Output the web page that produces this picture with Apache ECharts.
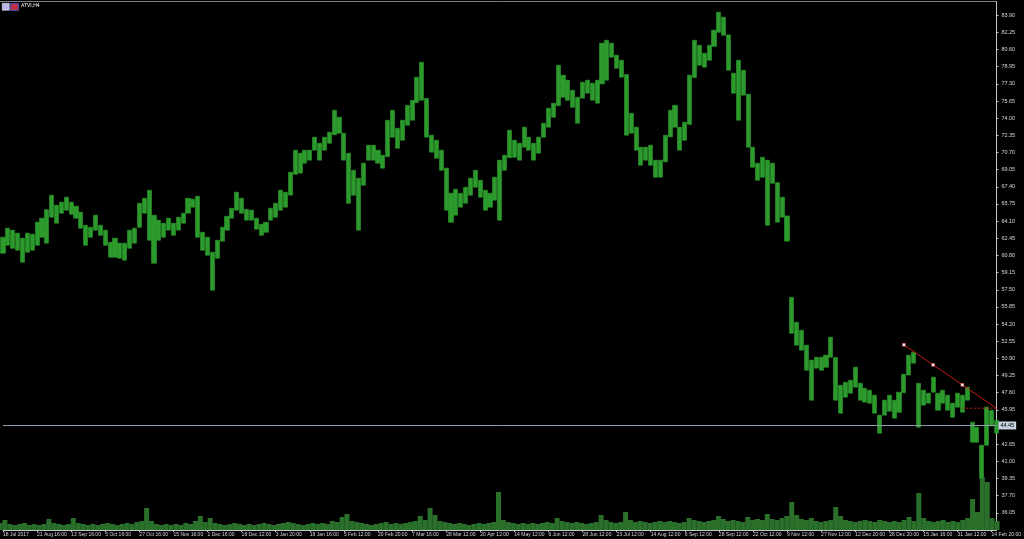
<!DOCTYPE html>
<html>
<head>
<meta charset="utf-8">
<script src="https://cdn.jsdelivr.net/npm/echarts@6/dist/echarts.min.js"></script>
<style>
html,body{margin:0;padding:0;background:#000;}
#chart{width:1024px;height:539px;}
</style>
</head>
<body>
<div id="chart"></div>
<script>
// ---- data ----
const symbolTitle = 'ATVI,H4';
const tickLabels = ['18 Jul 2017','21 Aug 16:00','13 Sep 16:00','5 Oct 16:00','27 Oct 16:00','15 Nov 16:00','1 Dec 16:00','18 Dec 12:00','3 Jan 20:00','19 Jan 16:00','5 Feb 12:00','20 Feb 20:00','7 Mar 16:00','28 Mar 12:00','20 Apr 12:00','14 May 12:00','6 Jun 12:00','28 Jun 12:00','23 Jul 12:00','14 Aug 12:00','6 Sep 12:00','28 Sep 12:00','22 Oct 12:00','9 Nov 12:00','27 Nov 12:00','12 Dec 20:00','28 Dec 20:00','15 Jan 16:00','31 Jan 12:00','14 Feb 20:00'];
const barsPerLabel = 7;

const highs = [
62.55,63.42,63.23,62.94,62.46,62.94,62.84,64.00,64.38,65.20,
66.59,65.63,65.92,66.40,65.92,65.53,64.96,63.70,63.51,64.67,
63.70,63.23,62.07,62.46,61.98,61.98,63.23,63.42,65.82,66.30,
67.07,64.67,64.19,63.90,64.38,63.90,64.47,64.86,66.30,66.21,
66.49,63.03,62.55,61.11,62.26,63.51,64.57,65.34,66.88,66.30,
65.24,65.15,64.38,63.80,63.99,65.34,65.82,67.07,66.88,68.80,
70.92,70.63,70.92,70.92,72.17,71.59,72.17,72.65,74.76,74.09,
72.55,70.63,68.99,68.23,69.67,71.40,71.40,70.92,70.44,73.80,
74.76,73.03,73.80,75.24,75.72,77.94,79.38,75.90,72.36,71.88,
70.92,69.20,66.78,67.17,66.78,67.36,68.23,68.99,68.03,67.07,
66.78,68.32,69.96,70.44,72.84,71.88,71.59,73.13,72.17,71.59,
72.17,73.51,74.96,75.44,79.09,78.13,77.65,76.69,76.01,77.46,
77.65,77.36,77.65,81.21,81.49,81.21,80.05,79.57,78.20,74.47,
73.13,71.21,71.21,71.40,69.96,69.96,72.36,74.76,75.24,73.13,
73.61,78.13,81.49,81.01,80.24,81.01,82.46,84.19,83.71,82.00,
78.32,79.57,78.61,76.30,71.21,69.67,70.24,69.96,69.67,67.80,
66.40,64.60,56.78,54.38,53.61,52.17,50.73,51.01,51.01,51.21,
52.94,51.00,48.32,48.61,48.80,50.05,48.51,48.03,47.84,47.36,
45.44,46.88,47.36,46.88,47.65,49.38,51.21,51.49,48.50,47.84,
47.55,49.09,47.55,47.84,47.36,46.59,47.55,47.36,48.13,44.76,
44.28,42.55,46.21,45.90,44.96
];
const lows = [
61.01,61.78,61.49,61.30,60.15,61.11,61.30,61.78,62.55,61.98,
64.47,63.90,64.86,65.15,64.76,64.38,63.42,61.78,62.55,63.23,
62.74,61.78,60.63,60.63,60.53,60.34,61.49,61.98,63.51,64.86,
62.26,60.05,62.26,62.55,63.23,62.74,63.23,63.90,64.86,65.44,
62.55,61.30,60.82,57.46,60.53,62.17,63.23,64.38,65.15,64.86,
64.19,64.19,63.32,62.74,63.03,64.19,64.47,65.15,65.44,66.60,
68.60,68.71,69.67,69.96,70.92,69.96,70.92,71.59,72.40,72.55,
69.96,65.82,66.59,63.23,67.55,69.96,69.96,69.67,69.19,70.30,
72.17,71.11,71.88,73.32,73.80,75.50,75.72,72.17,70.73,70.15,
68.99,65.15,63.99,64.67,65.44,65.82,66.59,67.36,66.40,65.15,
65.44,66.11,64.19,68.99,70.20,70.24,69.96,71.21,70.92,69.96,
70.63,72.17,73.13,74.09,75.20,76.01,75.72,75.05,73.51,75.92,
76.40,75.72,75.44,77.30,77.65,79.86,78.80,77.94,72.36,72.55,
70.92,69.47,69.96,69.47,68.32,68.32,69.80,72.20,73.13,70.92,
71.88,73.40,77.90,79.09,78.90,79.57,80.90,82.26,81.97,78.61,
76.40,73.80,76.21,71.21,69.28,68.03,68.32,63.70,67.74,64.00,
64.47,62.17,53.32,52.17,51.69,49.76,46.88,49.96,49.76,50.05,
51.01,46.88,45.63,47.17,47.55,48.13,46.88,46.69,46.59,45.63,
43.71,45.44,45.82,45.15,45.72,47.60,49.30,50.44,44.28,46.40,
46.59,47.65,45.92,46.59,45.92,45.24,46.21,45.72,46.88,42.84,
42.84,39.38,42.55,44.40,43.71
];
const volumes = [
7,10,6,5,6,7,5,6,5,6,
11,7,6,5,6,12,7,6,5,6,
5,6,7,6,5,6,7,6,8,9,
22,9,6,5,6,5,6,5,7,6,
9,14,8,12,7,6,5,6,7,6,
5,6,5,6,7,6,5,6,7,8,
7,6,5,6,7,6,7,6,9,8,
13,16,9,8,7,6,5,6,7,8,
6,7,6,7,8,9,14,10,22,15,
9,8,7,6,7,6,5,6,7,6,
7,8,38,10,8,7,6,7,6,7,
6,7,8,7,12,9,8,7,8,7,
6,7,8,15,10,8,7,8,18,10,
8,9,8,7,8,9,8,9,8,7,
8,12,10,9,8,9,10,14,11,9,
10,9,8,13,10,11,10,16,11,10,
12,14,28,15,11,10,12,9,8,9,
10,23,14,10,9,8,9,10,9,8,
10,9,8,9,8,10,13,9,37,12,
9,8,9,10,8,9,8,10,12,31,
18,53,48,12,9
];
const lastPrice = 44.45;
const trendIdx = [185, 191, 197, 204];
const trendPrice = [52.21, 50.28, 48.36, 46.11];
const levelIdx = [197, 204];
const levelPrice = 46.11;
const yMin = 34.40, yMax = 85.17, yStep = 1.65;

// ---- build ----
const cats = highs.map((_, i) => (i % barsPerLabel === 0 ? (tickLabels[i / barsPerLabel] || '') : ''));
const candles = highs.map((h, i) => [lows[i], h, lows[i], h]);
const GREEN = '#2c9a2c';
const AXIS = '#c8c8c8';

const chart = echarts.init(document.getElementById('chart'), null, {renderer: 'canvas'});
chart.setOption({
  animation: false,
  backgroundColor: '#000',
  graphic: [
    {type: 'rect', left: 2, top: 3, shape: {width: 7, height: 7}, style: {fill: '#b8b8e8', stroke: '#ffffff', lineWidth: 0.5}},
    {type: 'rect', left: 10, top: 3, shape: {width: 8, height: 7}, style: {fill: '#c03040', stroke: '#3050c0', lineWidth: 1}},
    {type: 'text', left: 21, top: 3, style: {text: symbolTitle, fill: '#ffffff', font: '5px "Liberation Sans"'}},
    {type: 'line', shape: {x1: 0, y1: 1.5, x2: 997, y2: 1.5}, style: {stroke: '#808080', lineWidth: 1}}
  ],
  grid: [
    {left: 0, right: 27, top: 2, bottom: 9, containLabel: false},
    {left: 0, right: 27, bottom: 9, height: 60, containLabel: false}
  ],
  xAxis: [
    {
      type: 'category', gridIndex: 0, data: cats, boundaryGap: false,
      axisLine: {show: true, lineStyle: {color: AXIS, width: 1}},
      axisTick: {show: true, length: 2, interval: (i) => i % barsPerLabel === 0, lineStyle: {color: AXIS}},
      axisLabel: {show: true, interval: 0, color: '#d8d8d8', fontSize: 5, fontFamily: 'Liberation Sans', align: 'left', margin: 2},
      splitLine: {show: false}
    },
    {type: 'category', gridIndex: 1, data: cats, boundaryGap: false, show: false}
  ],
  yAxis: [
    {
      type: 'value', gridIndex: 0, position: 'right', min: yMin, max: yMax, interval: yStep,
      axisLine: {show: true, lineStyle: {color: AXIS, width: 1}},
      axisTick: {show: true, length: 2, lineStyle: {color: AXIS}},
      axisLabel: {show: true, color: '#d8d8d8', fontSize: 5.5, fontFamily: 'Liberation Sans', margin: 5,
        showMinLabel: false, showMaxLabel: false, formatter: (v) => v.toFixed(2)},
      splitLine: {show: false}
    },
    {type: 'value', gridIndex: 1, min: 0, max: 60, show: false}
  ],
  series: [
    {
      type: 'bar', xAxisIndex: 1, yAxisIndex: 1, data: volumes, barWidth: 5,
      itemStyle: {color: '#2a702a'}, silent: true
    },
    {
      type: 'candlestick', xAxisIndex: 0, yAxisIndex: 0, data: candles, barWidth: 4.6,
      itemStyle: {color: GREEN, color0: GREEN, borderColor: GREEN, borderColor0: GREEN, borderWidth: 0.6},
      markLine: {
        silent: true, symbol: 'none', animation: false,
        lineStyle: {color: '#8e9eae', width: 1, type: 'solid'},
        label: {show: true, position: 'end', distance: 2, formatter: (p) => Number(p.value).toFixed(2),
          color: '#000', backgroundColor: '#c8d2e2', fontSize: 5.5, padding: [1, 2], fontFamily: 'Liberation Sans'},
        data: [{yAxis: lastPrice}]
      }
    },
    {
      type: 'line', xAxisIndex: 0, yAxisIndex: 0,
      data: trendIdx.map((x, k) => ({value: [x, trendPrice[k]], symbol: k < 3 ? 'rect' : 'none'})),
      symbolSize: 3, showSymbol: true,
      lineStyle: {color: '#c02018', width: 1},
      itemStyle: {color: '#ffffff', borderColor: '#c02018', borderWidth: 0.5},
      z: 5
    },
    {
      type: 'line', xAxisIndex: 0, yAxisIndex: 0, symbol: 'none',
      data: levelIdx.map((x) => [x, levelPrice]),
      lineStyle: {color: '#c02018', width: 1, type: [2, 2]}, z: 5
    }
  ]
});
</script>
</body>
</html>
